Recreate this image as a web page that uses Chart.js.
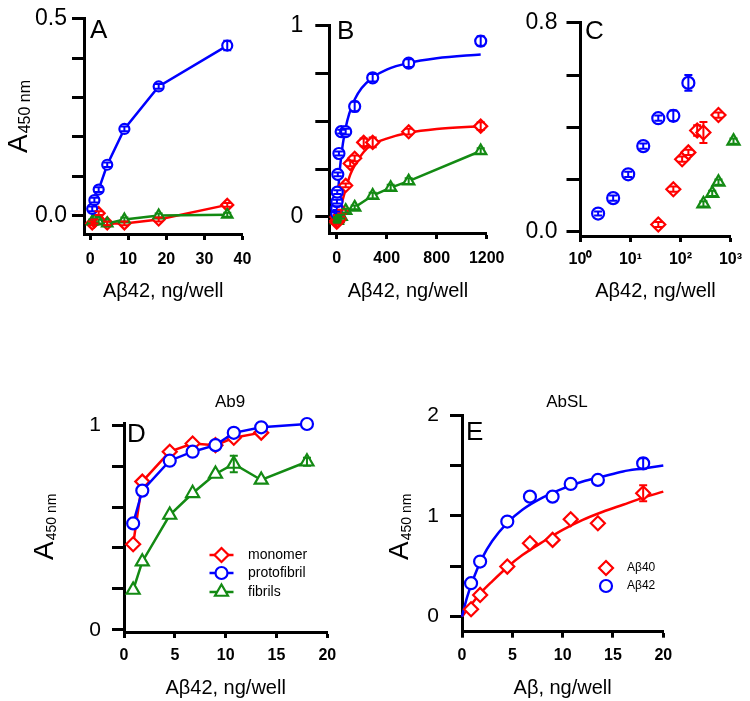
<!DOCTYPE html>
<html>
<head>
<meta charset="utf-8">
<script src="https://cdn.jsdelivr.net/npm/chart.js@4.4.1/dist/chart.umd.min.js"></script>
<style>
    html, body {margin: 0; padding: 0; background: #fff;}
    #wrap {position: relative; width: 750px; height: 701px;}
    #wrap canvas {position: absolute; left: 0; top: 0;}
</style>
</head>
<body>
<div id="wrap">
    <canvas id="cA" width="750" height="701"></canvas>
    <canvas id="cB" width="750" height="701"></canvas>
    <canvas id="cC" width="750" height="701"></canvas>
    <canvas id="cD" width="750" height="701"></canvas>
    <canvas id="cE" width="750" height="701"></canvas>
</div>
<script>
// ---- panel A : linear, low range ----
const aX = [0.56, 1.125, 2.25, 4.5, 9, 18, 36];
const aProto = [0.017, 0.039, 0.066, 0.129, 0.22, 0.328, 0.432];
const aProtoErr = [0.006, 0.006, 0.006, 0.006, 0.006, 0.006, 0.012];
const aMono = [-0.02, -0.015, 0.006, -0.02, -0.02, -0.01, 0.027];
const aMonoErr = [0.005, 0.005, 0.005, 0.005, 0.005, 0.005, 0.005];
const aFib = [-0.015, -0.012, -0.015, -0.02, -0.01, 0.0, 0.002];
const aFibErr = [0.005, 0.005, 0.005, 0.005, 0.005, 0.005, 0.005];
const aXTicks = [0, 10, 20, 30, 40];
const aYTicks = [0, 0.1, 0.2, 0.3, 0.4, 0.5];
const aYLabels = ['0.0', '', '', '', '', '0.5'];

// ---- panel B : full range with fits ----
const bXProto = [0.56, 1.125, 2.25, 4.5, 9, 18, 36, 72, 144, 288, 576, 1152];
const bProto = [0.017, 0.046, 0.08, 0.13, 0.223, 0.332, 0.446, 0.446, 0.578, 0.728, 0.805, 0.92];
const bProtoErr = [0.01, 0.01, 0.01, 0.01, 0.01, 0.01, 0.01, 0.015, 0.025, 0.02, 0.02, 0.025];
const bXMono = [0.56, 1.125, 2.25, 4.5, 9, 18, 36, 72, 108, 144, 216, 288, 576, 1152];
const bMono = [-0.028, -0.02, 0.0, -0.02, -0.02, -0.01, 0.028, 0.165, 0.28, 0.307, 0.39, 0.39, 0.446, 0.475];
const bMonoErr = [0.01, 0.01, 0.01, 0.01, 0.01, 0.01, 0.01, 0.01, 0.015, 0.015, 0.02, 0.025, 0.015, 0.02];
const bXFib = [0.56, 1.125, 2.25, 4.5, 9, 18, 36, 72, 144, 288, 432, 576, 1152];
const bFib = [-0.015, -0.012, -0.015, -0.02, -0.01, 0.0, 0.002, 0.033, 0.05, 0.112, 0.153, 0.187, 0.345];
const bFibErr = [0.01, 0.01, 0.01, 0.01, 0.01, 0.01, 0.01, 0.01, 0.01, 0.015, 0.015, 0.015, 0.015];
const bProtoFitX = [0, 5, 10, 20, 36, 50, 72, 100, 144, 200, 288, 400, 576, 800, 1152];
const bProtoFit = [0, 0.063, 0.117, 0.207, 0.315, 0.385, 0.467, 0.539, 0.614, 0.674, 0.73, 0.771, 0.806, 0.83, 0.85];
const bMonoFitX = [0, 20, 36, 72, 108, 144, 216, 288, 400, 576, 800, 1152];
const bMonoFit = [-0.02, 0.02, 0.06, 0.145, 0.22, 0.27, 0.34, 0.38, 0.41, 0.44, 0.46, 0.475];
const bXTicks = [0, 400, 800, 1200];
const bYTicks = [0, 0.25, 0.5, 0.75, 1];
const bYLabels = ['0', '', '', '', '1'];

// ---- panel C : log x ----
const cXProto = [2.25, 4.5, 9, 18, 36, 72, 144];
const cProto = [0.07, 0.129, 0.22, 0.328, 0.435, 0.444, 0.57];
const cProtoErr = [0.008, 0.01, 0.01, 0.01, 0.01, 0.02, 0.03];
const cXMono = [36, 72, 108, 144, 216, 288, 576];
const cMono = [0.028, 0.163, 0.278, 0.304, 0.388, 0.38, 0.447];
const cMonoErr = [0.01, 0.01, 0.01, 0.01, 0.02, 0.04, 0.01];
const cXFib = [288, 432, 576, 1152];
const cFib = [0.107, 0.147, 0.19, 0.347];
const cFibErr = [0.01, 0.01, 0.01, 0.01];
const cXTicks = [1, 10, 100, 1000];
const cXLabels = ['10⁰', '10¹', '10²', '10³'];
const cYTicks = [0, 0.2, 0.4, 0.6, 0.8];
const cYLabels = ['0.0', '', '', '', '0.8'];

// ---- panel D : Ab9 ----
const dXMono = [0.9, 1.8, 4.5, 6.75, 9, 10.8, 13.5];
const dMono = [0.418, 0.724, 0.87, 0.91, 0.902, 0.938, 0.963];
const dX = [0.9, 1.8, 4.5, 6.75, 9, 10.8, 13.5, 18];
const dProto = [0.52, 0.68, 0.826, 0.87, 0.902, 0.962, 0.989, 1.005];
const dFib = [0.195, 0.333, 0.561, 0.667, 0.761, 0.81, 0.732, 0.821];
const dFibErr = [0, 0, 0, 0, 0, 0.04, 0, 0.02];
const dXTicks = [0, 5, 10, 15, 20];
const dYTicks = [0, 0.2, 0.4, 0.6, 0.8, 1];
const dYLabels = ['0', '', '', '', '', '1'];

// ---- panel E : AbSL ----
const eX = [0.9, 1.8, 4.5, 6.75, 9, 10.8, 13.5, 18];
const e40 = [0.073, 0.215, 0.496, 0.728, 0.761, 0.966, 0.926, 1.224];
const e40Err = [0, 0, 0, 0, 0, 0, 0, 0.08];
const e42 = [0.331, 0.546, 0.943, 1.19, 1.19, 1.316, 1.356, 1.52];
const e42Err = [0, 0, 0, 0, 0, 0, 0, 0.05];
const e42FitX = [0, 0.5, 1, 2, 3, 4.5, 6, 8, 10, 12, 14, 16, 18, 20];
const e42Fit = [0, 0.19, 0.34, 0.58, 0.75, 0.93, 1.06, 1.18, 1.27, 1.34, 1.39, 1.44, 1.47, 1.5];
const e40FitX = [0, 1, 2, 3, 4.5, 6, 8, 10, 12, 14, 16, 18, 20];
const e40Fit = [0, 0.13, 0.25, 0.35, 0.49, 0.61, 0.74, 0.86, 0.96, 1.04, 1.11, 1.18, 1.24];
const eXTicks = [0, 5, 10, 15, 20];
const eYTicks = [0, 0.5, 1, 1.5, 2];
const eYLabels = ['0', '', '1', '', '2'];

const W = 750, H = 701;
const FONT = '"Liberation Sans", Arial, Helvetica, sans-serif';
const BLUE = '#0000ff', RED = '#ff0000', GREEN = '#138a13';
Chart.defaults.font.family = FONT;
Chart.defaults.color = '#000';

function marks(xs, ys, color, style, r, errs, line) {
    return {
        data: xs.map((x, i) => ({x: x, y: ys[i]})),
        errs: errs,
        borderColor: color,
        backgroundColor: '#fff',
        pointStyle: style,
        pointRadius: r,
        pointBorderWidth: 2.2,
        pointBorderColor: color,
        pointBackgroundColor: '#fff',
        borderWidth: 2.5,
        showLine: !!line,
        tension: 0,
        clip: false
    };
}

function curve(xs, ys, color) {
    return {
        data: xs.map((x, i) => ({x: x, y: ys[i]})),
        borderColor: color,
        borderWidth: 2.5,
        pointRadius: 0,
        showLine: true,
        cubicInterpolationMode: 'monotone',
        clip: false
    };
}

// error bars drawn through the library scales
const errorBars = {
    id: 'errorBars',
    afterDatasetsDraw(chart) {
        const ctx = chart.ctx;
        const ys = chart.scales.y;
        chart.data.datasets.forEach((ds, i) => {
            if (!ds.errs) return;
            const meta = chart.getDatasetMeta(i);
            ctx.save();
            ctx.strokeStyle = ds.borderColor;
            ctx.lineWidth = 2;
            meta.data.forEach((el, j) => {
                const e = ds.errs[j];
                if (!e) return;
                const v = ds.data[j].y;
                const y1 = ys.getPixelForValue(v + e);
                const y2 = ys.getPixelForValue(v - e);
                ctx.beginPath();
                ctx.moveTo(el.x, y1); ctx.lineTo(el.x, y2);
                ctx.moveTo(el.x - 4, y1); ctx.lineTo(el.x + 4, y1);
                ctx.moveTo(el.x - 4, y2); ctx.lineTo(el.x + 4, y2);
                ctx.stroke();
            });
            ctx.restore();
        });
    }
};

function decor(cfg) {
    return {
        id: 'decor',
        afterDraw(chart) {
            const ctx = chart.ctx;
            const area = chart.chartArea;
            ctx.save();
            ctx.fillStyle = '#000';
            ctx.textBaseline = 'alphabetic';
            // panel letter
            ctx.font = '26px ' + FONT;
            ctx.textAlign = 'left';
            ctx.fillText(cfg.letter, cfg.letterX, cfg.letterY);
            // x title
            ctx.font = '20px ' + FONT;
            ctx.textAlign = 'center';
            ctx.fillText(cfg.xTitle, (area.left + area.right) / 2, cfg.xTitleY);
            // top title
            if (cfg.title) {
                ctx.font = '17px ' + FONT;
                ctx.fillText(cfg.title, cfg.titleX, cfg.titleY);
            }
            // y title A450 nm
            if (cfg.yTitle) {
                ctx.save();
                ctx.translate(cfg.yTitleX, cfg.yTitleY);
                ctx.rotate(-Math.PI / 2);
                ctx.textAlign = 'left';
                ctx.font = '28px ' + FONT;
                ctx.fillText('A', 0, 0);
                const w = ctx.measureText('A').width;
                ctx.font = cfg.subSize + 'px ' + FONT;
                ctx.fillText('450 nm', w + 1, 3);
                ctx.restore();
            }
            // legend
            if (cfg.legend) {
                cfg.legend.forEach(item => {
                    if (item.line) {
                        ctx.strokeStyle = item.color;
                        ctx.lineWidth = 2.5;
                        ctx.beginPath();
                        ctx.moveTo(item.x - 12, item.y);
                        ctx.lineTo(item.x + 12, item.y);
                        ctx.stroke();
                    }
                    ctx.strokeStyle = item.color;
                    ctx.fillStyle = '#fff';
                    ctx.lineWidth = 2.2;
                    Chart.helpers.drawPoint(ctx, {pointStyle: item.style, radius: item.r, borderWidth: 2.2, rotation: 0}, item.x, item.y);
                    ctx.fillStyle = '#000';
                    ctx.font = item.size + 'px ' + FONT;
                    ctx.textAlign = 'left';
                    ctx.textBaseline = 'middle';
                    ctx.fillText(item.text, item.tx, item.y);
                    ctx.textBaseline = 'alphabetic';
                });
            }
            ctx.restore();
        }
    };
}

function panel(id, area, xs, ys, datasets, cfg) {
    return new Chart(document.getElementById(id), {
        type: 'scatter',
        data: {datasets: datasets},
        options: {
            responsive: false,
            animation: false,
            events: [],
            layout: {padding: {left: 0, top: area.top, right: W - area.right, bottom: 0}},
            plugins: {legend: {display: false}, tooltip: {enabled: false}},
            scales: {
                x: {
                    type: xs.type || 'linear',
                    min: xs.min,
                    max: xs.max,
                    afterBuildTicks: ax => { ax.ticks = xs.ticks.map(v => ({value: v})); },
                    afterFit: ax => { ax.height = H - area.bottom; },
                    ticks: {
                        callback: (v, i) => xs.labels ? xs.labels[i] : String(xs.ticks[i]),
                        font: {size: 16, weight: 'bold'},
                        color: '#000',
                        padding: xs.pad,
                        maxRotation: 0,
                        autoSkip: false
                    },
                    grid: {drawOnChartArea: false, drawTicks: true, tickLength: 6, tickWidth: 3, tickColor: '#000'},
                    border: {display: true, color: '#000', width: 3}
                },
                y: {
                    type: 'linear',
                    min: ys.min,
                    max: ys.max,
                    afterBuildTicks: ax => { ax.ticks = ys.ticks.map(v => ({value: v})); },
                    afterFit: ax => { ax.width = area.left; },
                    ticks: {
                        callback: (v, i) => ys.labels[i],
                        font: {size: ys.size},
                        color: '#000',
                        padding: ys.pad,
                        autoSkip: false
                    },
                    grid: {drawOnChartArea: false, drawTicks: true, tickLength: ys.tl, tickWidth: 3, tickColor: '#000'},
                    border: {display: true, color: '#000', width: 3}
                }
            }
        },
        plugins: [errorBars, decor(cfg)]
    });
}

const TITLE42 = 'Aβ42, ng/well';

panel('cA', {left: 84, top: 14, right: 242.5, bottom: 234},
    {min: -1.6, max: 40, ticks: aXTicks, pad: 10},
    {min: -0.047, max: 0.5, ticks: aYTicks, labels: aYLabels, size: 23, pad: 5, tl: 12},
    [
        marks(aX, aProto, BLUE, 'circle', 5, aProtoErr, true),
        marks(aX, aFib, GREEN, 'triangle', 6, aFibErr, true),
        marks(aX, aMono, RED, 'rectRot', 6, aMonoErr, true)
    ],
    {letter: 'A', letterX: 90, letterY: 38, xTitle: TITLE42, xTitleY: 297,
        yTitle: true, yTitleX: 27, yTitleY: 153, subSize: 16});

panel('cB', {left: 329.3, top: 14, right: 486.7, bottom: 233},
    {min: -59, max: 1200, ticks: bXTicks, pad: 10},
    {min: -0.084, max: 1, ticks: bYTicks, labels: bYLabels, size: 23, pad: 12, tl: 14},
    [
        marks(bXProto, bProto, BLUE, 'circle', 5.5, bProtoErr, false),
        marks(bXMono, bMono, RED, 'rectRot', 6.5, bMonoErr, false),
        marks(bXFib, bFib, GREEN, 'triangle', 6.5, bFibErr, true),
        curve(bProtoFitX, bProtoFit, BLUE),
        curve(bMonoFitX, bMonoFit, RED)
    ],
    {letter: 'B', letterX: 337, letterY: 39, xTitle: TITLE42, xTitleY: 297});

panel('cC', {left: 580.5, top: 14, right: 733.3, bottom: 236},
    {type: 'logarithmic', min: 1, max: 1000, ticks: cXTicks, labels: cXLabels, pad: 8},
    {min: -0.016, max: 0.8, ticks: cYTicks, labels: cYLabels, size: 23, pad: 9, tl: 14},
    [
        marks(cXProto, cProto, BLUE, 'circle', 6, cProtoErr, false),
        marks(cXMono, cMono, RED, 'rectRot', 7, cMonoErr, false),
        marks(cXFib, cFib, GREEN, 'triangle', 7, cFibErr, false)
    ],
    {letter: 'C', letterX: 585, letterY: 39, xTitle: TITLE42, xTitleY: 297});

panel('cD', {left: 124, top: 423, right: 327.3, bottom: 632},
    {min: 0, max: 20, ticks: dXTicks, pad: 8},
    {min: -0.01, max: 1.01, ticks: dYTicks, labels: dYLabels, size: 21, pad: 11, tl: 12},
    [
        marks(dX, dProto, BLUE, 'circle', 6, null, true),
        marks(dXMono, dMono, RED, 'rectRot', 7, null, true),
        marks(dX, dFib, GREEN, 'triangle', 7.5, dFibErr, true)
    ],
    {letter: 'D', letterX: 127, letterY: 442, xTitle: TITLE42, xTitleY: 694,
        title: 'Ab9', titleX: 230, titleY: 407,
        yTitle: true, yTitleX: 53, yTitleY: 560, subSize: 14,
        legend: [
            {text: 'monomer', color: RED, style: 'rectRot', r: 7, x: 221.5, y: 555, tx: 248, size: 14, line: true},
            {text: 'protofibril', color: BLUE, style: 'circle', r: 6, x: 221.5, y: 573, tx: 248, size: 14, line: true},
            {text: 'fibrils', color: GREEN, style: 'triangle', r: 7.5, x: 221.5, y: 592, tx: 248, size: 14, line: true}
        ]});

panel('cE', {left: 462, top: 415, right: 663.3, bottom: 631.7},
    {min: 0, max: 20, ticks: eXTicks, pad: 8},
    {min: -0.15, max: 2, ticks: eYTicks, labels: eYLabels, size: 21, pad: 11, tl: 12},
    [
        marks(eX, e42, BLUE, 'circle', 6, e42Err, false),
        marks(eX, e40, RED, 'rectRot', 7, e40Err, false),
        curve(e42FitX, e42Fit, BLUE),
        curve(e40FitX, e40Fit, RED)
    ],
    {letter: 'E', letterX: 466, letterY: 440, xTitle: 'Aβ, ng/well', xTitleY: 694,
        title: 'AbSL', titleX: 567, titleY: 407,
        yTitle: true, yTitleX: 408, yTitleY: 560, subSize: 14,
        legend: [
            {text: 'Aβ40', color: RED, style: 'rectRot', r: 7, x: 606, y: 568, tx: 627, size: 12},
            {text: 'Aβ42', color: BLUE, style: 'circle', r: 6, x: 606, y: 586, tx: 627, size: 12}
        ]});
</script>
</body>
</html>
